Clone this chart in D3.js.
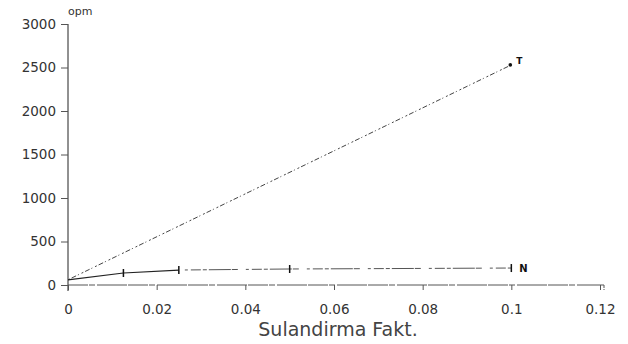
<!DOCTYPE html>
<html>
<head>
<meta charset="utf-8">
<script src="https://cdn.jsdelivr.net/npm/d3@7/dist/d3.min.js"></script>
<style>
  body { margin: 0; background: #fff; }
  text { font-family: "DejaVu Sans", sans-serif; fill: #333; }
</style>
</head>
<body>
<div id="chart"></div>
<script>
// values
const dilution = [0, 0.0125, 0.025, 0.05, 0.1];
const seriesN = [60, 138, 172, 184, 195];
const seriesTx = [0, 0.1];
const seriesT = [60, 2530];
const xTicks = [0, 0.02, 0.04, 0.06, 0.08, 0.1, 0.12];
const xTickLabels = ["0", "0.02", "0.04", "0.06", "0.08", "0.1", "0.12"];
const yTicks = [0, 500, 1000, 1500, 2000, 2500, 3000];
const yTickLabels = ["0", "500", "1000", "1500", "2000", "2500", "3000"];

var W = 628, H = 344;
var svg = d3.select("#chart").append("svg")
    .attr("width", W)
    .attr("height", H);

var x = d3.scaleLinear().domain([0, 0.12]).range([68, 600]),
    y = d3.scaleLinear().domain([0, 3000]).range([285, 24]);

var ptsN = d3.zip(dilution, seriesN),
    ptsT = d3.zip(seriesTx, seriesT);

var line = d3.line()
    .x(function(d) { return x(d[0]); })
    .y(function(d) { return y(d[1]); });

// y axis
var yAxis = svg.append("g")
    .attr("transform", "translate(" + x(0) + ",0)")
    .call(d3.axisLeft(y).tickValues(yTicks).tickSize(7).tickPadding(5)
      .tickFormat(function(d, i) { return yTickLabels[i]; }));
yAxis.select(".domain").attr("d", "M0," + y(3000) + "V" + (y(0) + 6)).attr("stroke", "#222");
yAxis.selectAll(".tick line").attr("stroke", "#555");
yAxis.selectAll(".tick text").style("font-size", "13.5px").attr("fill", "#333");

// x axis
var xAxis = svg.append("g")
    .attr("transform", "translate(0," + y(0) + ")")
    .call(d3.axisBottom(x).tickValues(xTicks).tickSize(5).tickPadding(14)
      .tickFormat(function(d, i) { return xTickLabels[i]; }));
xAxis.select(".domain").attr("d", "M" + x(0) + ",0H" + (x(0.12) + 4) + "V5")
    .attr("stroke", "#555")
    .style("stroke-dasharray", "20,1,6,2,30,1");
xAxis.selectAll(".tick line").attr("stroke", "#555");
xAxis.selectAll(".tick text").style("font-size", "13.5px").attr("fill", "#333");

svg.append("text")
    .attr("x", x(0))
    .attr("y", 15)
    .style("font-size", "11px")
    .text("opm");

svg.append("text")
    .attr("x", 338)
    .attr("y", 336)
    .attr("text-anchor", "middle")
    .style("font-size", "19px")
    .style("fill", "#444")
    .text("Sulandirma Fakt.");

// series T
svg.append("path")
    .attr("d", line(ptsT))
    .attr("fill", "none")
    .attr("stroke", "#444")
    .attr("stroke-width", 1)
    .style("stroke-dasharray", "2,2,5,2,1,3");

svg.append("circle")
    .attr("cx", x(ptsT[1][0]) - 1)
    .attr("cy", y(ptsT[1][1]))
    .attr("r", 1.8)
    .attr("fill", "#111");

svg.append("text")
    .attr("x", x(ptsT[1][0]) + 5)
    .attr("y", y(ptsT[1][1]) - 1)
    .style("font-size", "9px")
    .style("font-weight", "bold")
    .style("fill", "#111")
    .text("T");

// series N: solid start, then broken scan-like dashes
svg.append("path")
    .attr("d", line(ptsN.slice(0, 3)))
    .attr("fill", "none")
    .attr("stroke", "#222")
    .attr("stroke-width", 1.2);

svg.append("path")
    .attr("d", line(ptsN.slice(2)))
    .attr("fill", "none")
    .attr("stroke", "#555")
    .attr("stroke-width", 1)
    .style("stroke-dasharray", "0,6,3,3,10,2,4,2,22,1,6,2");

svg.selectAll(".nmark")
    .data(ptsN.slice(1))
    .enter().append("line")
    .attr("class", "nmark")
    .attr("x1", function(d) { return x(d[0]); })
    .attr("x2", function(d) { return x(d[0]); })
    .attr("y1", function(d) { return y(d[1]) - 4; })
    .attr("y2", function(d) { return y(d[1]) + 4; })
    .attr("stroke", "#111")
    .attr("stroke-width", 1.5);

svg.append("text")
    .attr("x", x(ptsN[4][0]) + 8)
    .attr("y", y(ptsN[4][1]) + 4)
    .style("font-size", "10px")
    .style("font-weight", "bold")
    .style("fill", "#111")
    .text("N");
</script>
</body>
</html>
